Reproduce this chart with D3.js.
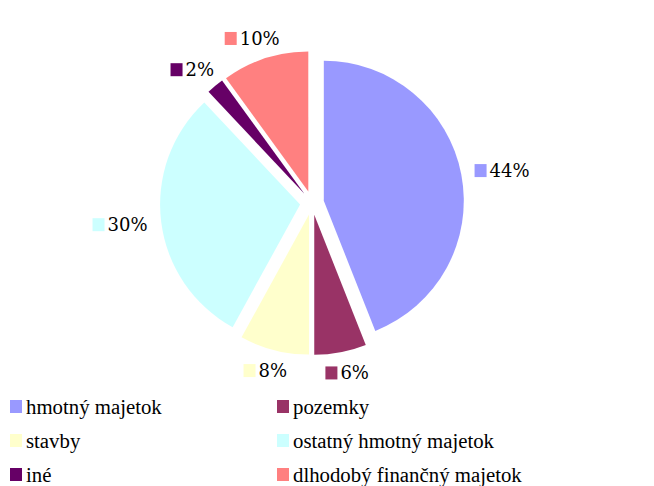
<!DOCTYPE html>
<html><head><meta charset="utf-8">
<script src="https://cdn.jsdelivr.net/npm/d3@7"></script>
<style>body{margin:0;background:#fff}svg{display:block}</style>
</head><body>
<script>
const categories = ["hmotný majetok","pozemky","stavby","ostatný hmotný majetok","iné","dlhodobý finančný majetok"];
const values = [44, 6, 8, 30, 2, 10];
const labels = ["44%","6%","8%","30%","2%","10%"];
const colors = ["#9999FF","#993366","#FFFFCC","#CCFFFF","#660066","#FF8080"];

const W = 654, H = 486;
const cx = 312, cy = 203, r = 140, explode = 12, labelR = 166;
const lblSize = 18;
const svg = d3.select("body").append("svg").attr("width", W).attr("height", H);

const pie = d3.pie().sort(null).value(d => d)(values);
const arc = d3.arc().innerRadius(0).outerRadius(r);
const g = svg.append("g").attr("transform", `translate(${cx},${cy})`);

pie.forEach((p, i) => {
  const mid = (p.startAngle + p.endAngle) / 2;
  const dx = Math.sin(mid), dy = -Math.cos(mid);
  g.append("path").attr("d", arc(p)).attr("fill", colors[i])
    .attr("transform", `translate(${dx*explode},${dy*explode})`);
});

// labels (width estimated from DejaVu Serif metrics: digit 0.636em, % 0.95em)
pie.forEach((p, i) => {
  const mid = (p.startAngle + p.endAngle) / 2;
  const dx = Math.sin(mid), dy = -Math.cos(mid);
  const txt = labels[i];
  const tw = ((txt.length - 1) * 0.636 + 0.95) * lblSize;
  const bw = 15 + tw, bh = 14;
  const bx = dx * labelR + dx * bw / 2 - bw / 2;
  const by = dy * labelR + dy * bh / 2;
  const lg = g.append("g").attr("transform", `translate(${bx},${by})`);
  lg.append("rect").attr("x", 0).attr("y", -6.5).attr("width", 12).attr("height", 13).attr("fill", colors[i]);
  lg.append("text").text(txt).attr("x", 15).attr("y", 0)
    .attr("dy", "0.36em").attr("fill", "#000")
    .style("font-family", '"DejaVu Serif"').style("font-size", lblSize + "px");
});

// legend
const colX = [10, 277], rowY = [407, 441, 475];
categories.forEach((c, i) => {
  const x = colX[i % 2], y = rowY[Math.floor(i / 2)];
  svg.append("rect").attr("x", x).attr("y", y - 7).attr("width", 12).attr("height", 13).attr("fill", colors[i]);
  svg.append("text").attr("x", x + 16).attr("y", y).attr("dy", "0.33em")
    .style("font-family", '"Liberation Serif"').style("font-size", "20.8px")
    .attr("fill", "#000").text(c);
});
</script>
</body></html>
